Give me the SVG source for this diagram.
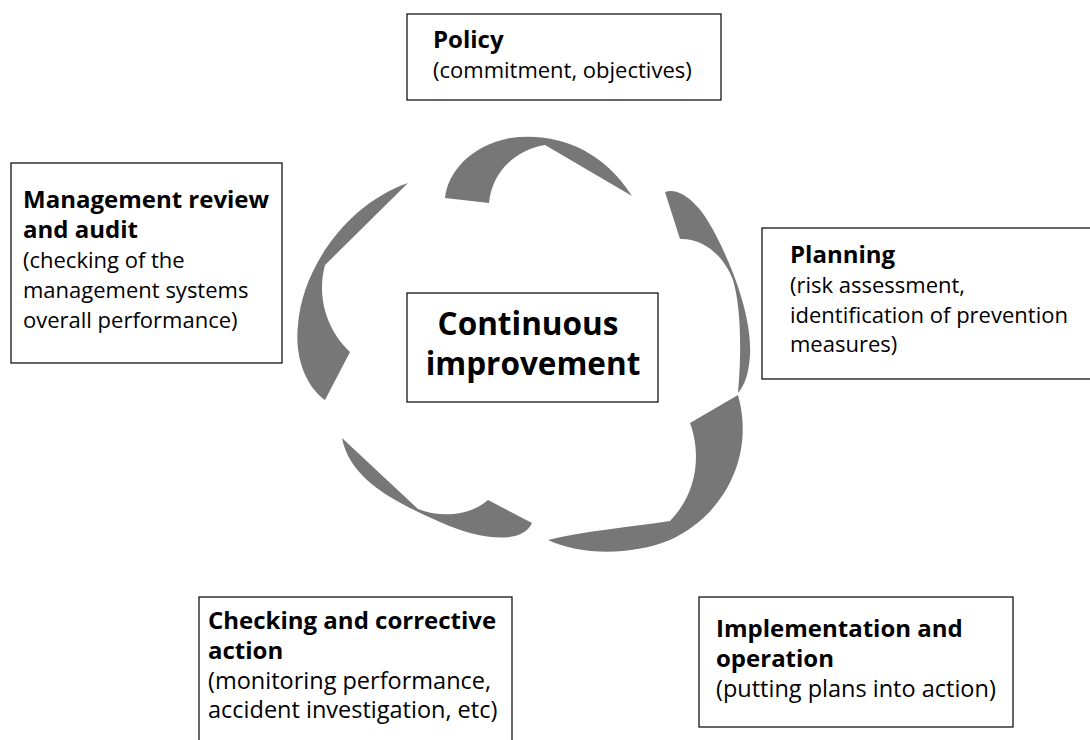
<svg xmlns="http://www.w3.org/2000/svg" width="1090" height="740" viewBox="0 0 1090 740">
  <style>
    .box { fill: #fff; stroke: #000; stroke-width: 1.2; }
    .ribbon { fill: #777; stroke: none; }
    text { font-family: "Open Sans", "Noto Sans", "DejaVu Sans", sans-serif; fill: #000; }
    .title { font-size: 24px; font-weight: bold; }
    .body { font-size: 22px; }
    .body-lg { font-size: 23.5px; }
    .centre { font-size: 31.5px; font-weight: bold; text-anchor: middle; }
  </style>
  <rect width="1090" height="740" fill="#fff"/>

  <!-- cycle ribbons linking the stages -->
  <g id="connectors">
    <path class="ribbon" d="M445,198 C448,172 470,146 510,138 C550,132 600,145 632,196 L545,145 C515,150 492,172 489,203 Z"/>
    <path class="ribbon" d="M665,192 C680,186 700,205 712,228 C735,270 752,320 750,355 C749,372 745,385 738,393 C741,360 742,310 733,280 C725,258 705,238 680,239 Z"/>
    <path class="ribbon" d="M738,395 L690,423 C700,450 700,490 670,521 C630,527 585,531 548,540 C580,555 630,556 670,540 C725,515 755,455 738,395 Z"/>
    <path class="ribbon" d="M342,438 L418,509 C440,518 470,516 488,500 L532,523 C522,545 480,540 440,522 C395,502 350,480 342,438 Z"/>
    <path class="ribbon" d="M408,183 L325,265 C318,290 322,325 350,352 L325,400 C308,388 294,360 298,325 C302,270 345,205 408,183 Z"/>
  </g>

  <g id="policy">
    <rect class="box" x="407" y="14" width="314" height="86"/>
    <text class="title" x="433" y="48">Policy</text>
    <text class="body" x="433" y="78">(commitment, objectives)</text>
  </g>

  <g id="planning">
    <rect class="box" x="762" y="228" width="340" height="151"/>
    <text class="title" x="790" y="263">Planning</text>
    <text class="body" x="790" y="293">(risk assessment,</text>
    <text class="body" x="790" y="323">identification of prevention</text>
    <text class="body" x="790" y="352">measures)</text>
  </g>

  <g id="implementation">
    <rect class="box" x="699" y="597" width="314" height="130"/>
    <text class="title" x="716" y="637">Implementation and</text>
    <text class="title" x="716" y="667">operation</text>
    <text class="body-lg" x="716" y="697">(putting plans into action)</text>
  </g>

  <g id="checking">
    <rect class="box" x="199" y="597" width="313" height="160"/>
    <text class="title" x="208" y="629">Checking and corrective</text>
    <text class="title" x="208" y="659">action</text>
    <text class="body-lg" x="208" y="689">(monitoring performance,</text>
    <text class="body-lg" x="208" y="718">accident investigation, etc)</text>
  </g>

  <g id="review">
    <rect class="box" x="11" y="163" width="271" height="200"/>
    <text class="title" x="23" y="208">Management review</text>
    <text class="title" x="23" y="238">and audit</text>
    <text class="body" x="23" y="268">(checking of the</text>
    <text class="body" x="23" y="298">management systems</text>
    <text class="body" x="23" y="328">overall performance)</text>
  </g>

  <g id="improvement">
    <rect class="box" x="407" y="293" width="251" height="109"/>
    <text class="centre" x="528" y="335">Continuous</text>
    <text class="centre" x="533" y="375">improvement</text>
  </g>
</svg>
